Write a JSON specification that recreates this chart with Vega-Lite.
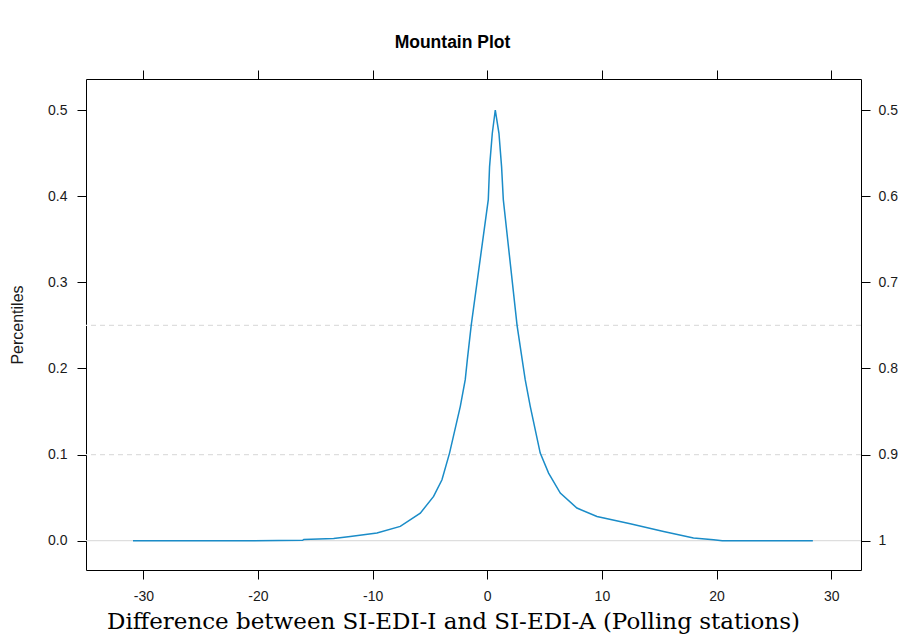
{
  "$schema": "https://vega.github.io/schema/vega-lite/v6.json",
  "width": 775,
  "height": 491,
  "autosize": {"type": "none"},
  "padding": {"left": 86, "top": 79, "right": 43, "bottom": 71},
  "background": "white",
  "title": {
    "text": "Mountain Plot",
    "font": "Liberation Sans",
    "fontSize": 17.5,
    "fontWeight": "bold",
    "color": "#000000",
    "anchor": "middle",
    "offset": 18,
    "dx": -21
  },
  "config": {
    "view": {"stroke": "#000000", "strokeWidth": 1},
    "axis": {
      "grid": false,
      "domain": false,
      "tickColor": "#000000",
      "tickSize": 9,
      "labelFont": "Liberation Sans",
      "labelFontSize": 14,
      "labelColor": "#1a1a1a",
      "labelPadding": 9
    }
  },
  "datasets": {
    "curve": [
      {"diff": -30.9, "pct": 0},
      {"diff": -20.7, "pct": 0},
      {"diff": -16.1, "pct": 0.0005},
      {"diff": -16.0, "pct": 0.0015},
      {"diff": -13.4, "pct": 0.0025},
      {"diff": -11.95, "pct": 0.005},
      {"diff": -9.62, "pct": 0.0089},
      {"diff": -7.59, "pct": 0.0166},
      {"diff": -5.84, "pct": 0.032},
      {"diff": -4.68, "pct": 0.0514},
      {"diff": -3.95, "pct": 0.0708},
      {"diff": -3.29, "pct": 0.1017},
      {"diff": -2.35, "pct": 0.156},
      {"diff": -1.92, "pct": 0.187},
      {"diff": -1.74, "pct": 0.21},
      {"diff": -1.4, "pct": 0.25},
      {"diff": 0.09, "pct": 0.396},
      {"diff": 0.2, "pct": 0.434},
      {"diff": 0.44, "pct": 0.473},
      {"diff": 0.7, "pct": 0.5},
      {"diff": 1.02, "pct": 0.473},
      {"diff": 1.25, "pct": 0.434},
      {"diff": 1.4, "pct": 0.396},
      {"diff": 2.6, "pct": 0.25},
      {"diff": 3.05, "pct": 0.21},
      {"diff": 3.31, "pct": 0.187},
      {"diff": 3.75, "pct": 0.156},
      {"diff": 4.62, "pct": 0.1017},
      {"diff": 5.35, "pct": 0.0785},
      {"diff": 6.37, "pct": 0.0553},
      {"diff": 7.82, "pct": 0.0379},
      {"diff": 9.57, "pct": 0.0282},
      {"diff": 12.47, "pct": 0.0197},
      {"diff": 15.38, "pct": 0.0108},
      {"diff": 17.99, "pct": 0.0031},
      {"diff": 19.74, "pct": 0.0012},
      {"diff": 20.5, "pct": 0},
      {"diff": 28.4, "pct": 0}
    ],
    "refs": [
      {"level": 0, "style": "solid"},
      {"level": 0.1, "style": "dashed"},
      {"level": 0.25, "style": "dashed"}
    ]
  },
  "resolve": {"axis": {"x": "independent", "y": "independent"}},
  "layer": [
    {
      "data": {"name": "refs"},
      "mark": {"type": "rule", "color": "#dedede", "strokeWidth": 1.2},
      "encoding": {
        "y": {
          "field": "level",
          "type": "quantitative",
          "scale": {"domain": [-0.034, 0.536], "nice": false, "zero": false},
          "axis": {
            "orient": "right",
            "title": null,
            "values": [0, 0.1, 0.2, 0.3, 0.4, 0.5],
            "labelPadding": 8,
            "labelExpr": "datum.value < 0.001 ? '1' : format(1 - datum.value, '.1f')"
          }
        },
        "strokeDash": {
          "field": "style",
          "type": "nominal",
          "scale": {"domain": ["solid", "dashed"], "range": [[1, 0], [5, 4]]},
          "legend": null
        }
      }
    },
    {
      "data": {"name": "curve"},
      "mark": {"type": "line", "color": "#1a8cc8", "strokeWidth": 1.5},
      "encoding": {
        "x": {
          "field": "diff",
          "type": "quantitative",
          "scale": {"domain": [-35, 32.6], "nice": false, "zero": false},
          "axis": {
            "orient": "bottom",
            "values": [-30, -20, -10, 0, 10, 20, 30],
            "labelExpr": "'' + datum.value",
            "labelPadding": 10,
            "title": "Difference between SI-EDI-I and SI-EDI-A (Polling stations)",
            "titleFont": "DejaVu Serif",
            "titleFontSize": 23,
            "titleFontWeight": "normal",
            "titleColor": "#000000",
            "titlePadding": 7,
            "titleX": 367
          }
        },
        "y": {
          "field": "pct",
          "type": "quantitative",
          "scale": {"domain": [-0.034, 0.536], "nice": false, "zero": false},
          "axis": {
            "orient": "left",
            "values": [0, 0.1, 0.2, 0.3, 0.4, 0.5],
            "format": ".1f",
            "labelPadding": 10,
            "title": "Percentiles",
            "titleFont": "Liberation Sans",
            "titleFontSize": 16,
            "titleFontWeight": "normal",
            "titleColor": "#1a1a1a",
            "titlePadding": 22
          }
        }
      }
    },
    {
      "data": {"name": "curve"},
      "mark": {"type": "line", "strokeOpacity": 0},
      "encoding": {
        "x": {
          "field": "diff",
          "type": "quantitative",
          "scale": {"domain": [-35, 32.6], "nice": false, "zero": false},
          "axis": {
            "orient": "top",
            "values": [-30, -20, -10, 0, 10, 20, 30],
            "labels": false,
            "title": null
          }
        },
        "y": {
          "field": "pct",
          "type": "quantitative",
          "axis": null
        }
      }
    }
  ]
}
